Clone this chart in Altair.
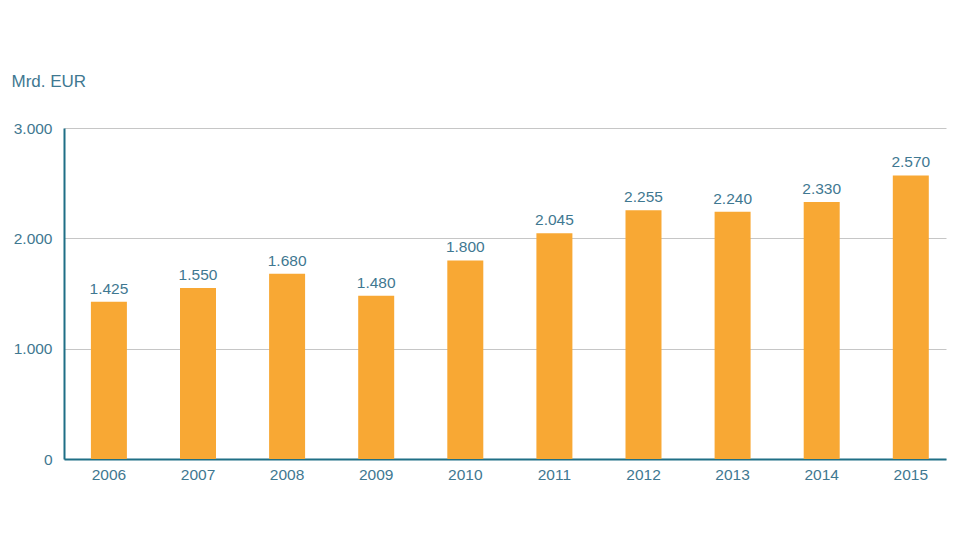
import altair as alt
import pandas as pd

years = ["2006", "2007", "2008", "2009", "2010", "2011", "2012", "2013", "2014", "2015"]
values = [1425, 1550, 1680, 1480, 1800, 2045, 2255, 2240, 2330, 2570]

df = pd.DataFrame({"year": years, "value": values})

TEXT = "#3f7891"
AXIS = "#1f6f86"
BAR = "#F8A834"
FONT = "Liberation Sans"
FS = 15.5

base = alt.Chart(df).transform_calculate(
    label="replace(format(datum.value, ','), ',', '.')"
)

x = alt.X("year:N", title=None, sort=years,
          scale=alt.Scale(paddingInner=0.596, paddingOuter=0.2475, align=0.61),
          axis=alt.Axis(labelAngle=0, ticks=False, labelPadding=8, labelFontSize=FS,
                        labelColor=TEXT, labelFont=FONT, domainColor=AXIS, domainWidth=2))

bars = base.mark_bar(color=BAR).encode(
    x=x,
    y=alt.Y("value:Q", scale=alt.Scale(domain=[0, 3000], nice=False),
            axis=alt.Axis(values=[0, 1000, 2000, 3000], ticks=False, labelPadding=12,
                          labelFontSize=FS, labelColor=TEXT, labelFont=FONT,
                          labelExpr="replace(format(datum.value, ','), ',', '.')",
                          domainColor=AXIS, domainWidth=2, gridColor="#c6c6c6",
                          title="Mrd. EUR", titleAngle=0, titleX=-53, titleY=-42,
                          titleAlign="left", titleBaseline="alphabetic",
                          titleFontSize=17, titleFontWeight="normal", titleColor=TEXT,
                          titleFont=FONT)),
)

labels = base.mark_text(dy=-5, baseline="bottom", fontSize=FS, color=TEXT, font=FONT).encode(
    x=alt.X("year:N", sort=years),
    y="value:Q",
    text="label:N",
)

chart = (bars + labels).properties(
    width=882, height=331,
    autosize=alt.AutoSizeParams(type="none"),
    padding={"left": 64, "top": 128, "right": 14, "bottom": 81},
    background="white",
).configure_view(stroke=None)

chart.save("out.html", embed_options={"renderer": "svg", "actions": False})
